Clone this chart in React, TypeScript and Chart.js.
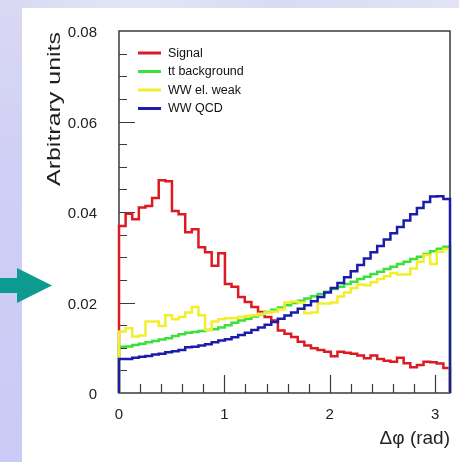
import { useEffect, useRef } from "react";
import { Chart, registerables } from "chart.js";

Chart.register(...registerables);

// ---- data ----
const seriesLabels = ["Signal", "tt background", "WW el. weak", "WW QCD"];
const seriesColors = ["#dc1a22", "#3ce03a", "#f2ee2c", "#1c1caa"];

const nBins = 50;
const xMin = 0;
const xMax = Math.PI;
const yMin = 0;
const yMax = 0.08;
const xMajorStep = 1;
const xMinorStep = 0.2;
const yMajorStep = 0.02;
const yMinorStep = 0.005;

const signal = [
  0.0369, 0.0396, 0.0384, 0.041, 0.0413, 0.0431, 0.047, 0.0468, 0.0402, 0.0395,
  0.0355, 0.0362, 0.0322, 0.0311, 0.0281, 0.0309, 0.0241, 0.0235, 0.0212, 0.0201,
  0.019, 0.0179, 0.0168, 0.016, 0.0138, 0.0131, 0.0124, 0.0113, 0.0105, 0.0099,
  0.0095, 0.0091, 0.0081, 0.0091, 0.0089, 0.0087, 0.0083, 0.0077, 0.0083, 0.0075,
  0.0071, 0.0069, 0.0078, 0.0066, 0.0057, 0.0062, 0.0069, 0.0068, 0.0065, 0.0055,
];

const ttBackground = [
  0.0102, 0.0103, 0.0106, 0.0109, 0.0112, 0.0115, 0.0118, 0.0121, 0.0126, 0.013,
  0.0133, 0.0135, 0.0137, 0.0139, 0.0141, 0.0145, 0.015, 0.0155, 0.016, 0.0164,
  0.0169, 0.0174, 0.0179, 0.0184, 0.0189, 0.0194, 0.0199, 0.0204, 0.0209, 0.0214,
  0.0219, 0.0224, 0.023, 0.0235, 0.0241, 0.0246, 0.0252, 0.0257, 0.0263, 0.0268,
  0.0274, 0.0279, 0.0285, 0.029, 0.0296, 0.0301, 0.0307, 0.0313, 0.0319, 0.0323,
];

const wwElWeak = [
  0.0136, 0.0143, 0.0125, 0.0127, 0.0158, 0.0158, 0.0148, 0.0172, 0.0163, 0.0168,
  0.0178, 0.019, 0.0172, 0.014, 0.0158, 0.0163, 0.0165, 0.0166, 0.0168, 0.017,
  0.0172, 0.0175, 0.0178, 0.018, 0.0185, 0.02, 0.0202, 0.02, 0.0176, 0.0178,
  0.0198, 0.0198, 0.02, 0.0213, 0.0222, 0.0232, 0.024, 0.0238, 0.0245, 0.0252,
  0.0258, 0.0265, 0.0262, 0.0262, 0.0275, 0.029, 0.0305, 0.0285, 0.0312, 0.0318,
];

const wwQcd = [
  0.0075, 0.0075, 0.0078, 0.008, 0.0082, 0.0085, 0.0087, 0.009, 0.0092, 0.0095,
  0.0101, 0.0102, 0.0105, 0.0108, 0.0112, 0.0116, 0.0119, 0.0123, 0.0128, 0.0133,
  0.0139, 0.0145, 0.0151, 0.0157, 0.0164, 0.0171, 0.0178, 0.0186, 0.0194, 0.0203,
  0.0212, 0.0222, 0.0232, 0.0243, 0.0256, 0.0269, 0.0283, 0.0297, 0.0311, 0.0325,
  0.0339, 0.0353, 0.0367, 0.0381, 0.0395, 0.0409, 0.0422, 0.0434, 0.0435, 0.0429,
];

const seriesValues = [signal, ttBackground, wwElWeak, wwQcd];

const yTitle = "Arbitrary units";
const xTitle = "\u0394\u03c6 (rad)";

// histogram outline points (bin edges from the axis range)
function histPoints(values: number[]) {
  const w = (xMax - xMin) / nBins;
  const pts: { x: number; y: number }[] = [{ x: xMin, y: 0 }];
  values.forEach((v, i) => pts.push({ x: xMin + i * w, y: v }));
  pts.push({ x: xMax, y: 0 });
  return pts;
}

const FONT = "'Liberation Sans', Arial, Helvetica, sans-serif";

const decorPlugin = {
  id: "decor",
  beforeDraw(chart: any) {
    const { ctx, width, height } = chart;
    ctx.save();
    ctx.fillStyle = "#ffffff";
    ctx.fillRect(0, 0, width, height);
    // top strip
    const g = ctx.createLinearGradient(0, 0, width, 0);
    g.addColorStop(0, "#d6d9f2");
    g.addColorStop(0.3, "#e4e6f6");
    g.addColorStop(0.6, "#d8dbf3");
    g.addColorStop(1, "#e2e4f5");
    ctx.fillStyle = g;
    ctx.fillRect(0, 0, width, 8);
    // left strip
    const g2 = ctx.createLinearGradient(0, 0, 0, height);
    g2.addColorStop(0, "#d9d9f3");
    g2.addColorStop(0.35, "#d0cff5");
    g2.addColorStop(1, "#cbcaf6");
    ctx.fillStyle = g2;
    ctx.fillRect(0, 0, 22, height);
    // arrow
    ctx.fillStyle = "#0d9a8f";
    ctx.fillRect(0, 278, 18, 15);
    ctx.beginPath();
    ctx.moveTo(17, 268);
    ctx.lineTo(52, 285.5);
    ctx.lineTo(17, 303);
    ctx.closePath();
    ctx.fill();
    // y title (stretched text)
    ctx.translate(55, 109);
    ctx.rotate(-Math.PI / 2);
    ctx.font = `18.5px ${FONT}`;
    ctx.fillStyle = "#1e1e1e";
    ctx.textAlign = "center";
    ctx.textBaseline = "middle";
    const m = ctx.measureText(yTitle).width;
    ctx.scale(154 / m, 1);
    ctx.fillText(yTitle, 0, 0);
    ctx.restore();
  },
  beforeDatasetsDraw(chart: any) {
    const { ctx, chartArea } = chart;
    const xs = chart.scales.x;
    const ys = chart.scales.y;
    ctx.save();
    ctx.strokeStyle = "#3a3a3a";
    ctx.lineWidth = 1.5;
    ctx.strokeRect(chartArea.left, chartArea.top, chartArea.right - chartArea.left, chartArea.bottom - chartArea.top);
    ctx.lineWidth = 1.2;
    ctx.beginPath();
    const nY = Math.round((yMax - yMin) / yMinorStep);
    for (let i = 1; i < nY; i++) {
      const v = yMin + i * yMinorStep;
      const major = Math.abs(v / yMajorStep - Math.round(v / yMajorStep)) < 1e-6;
      const py = Math.round(ys.getPixelForValue(v)) + 0.5;
      ctx.moveTo(chartArea.left, py);
      ctx.lineTo(chartArea.left + (major ? 16 : 8), py);
    }
    const nX = Math.floor((xMax - xMin) / xMinorStep + 1e-6);
    for (let i = 1; i <= nX; i++) {
      const v = xMin + i * xMinorStep;
      const major = Math.abs(v / xMajorStep - Math.round(v / xMajorStep)) < 1e-6;
      const px = Math.round(xs.getPixelForValue(v)) + 0.5;
      ctx.moveTo(px, chartArea.bottom);
      ctx.lineTo(px, chartArea.bottom - (major ? 18 : 9));
    }
    ctx.stroke();
    ctx.restore();
  },
  afterDatasetsDraw(chart: any) {
    const { ctx } = chart;
    ctx.save();
    ctx.font = `12.5px ${FONT}`;
    ctx.textBaseline = "middle";
    ctx.textAlign = "left";
    seriesLabels.forEach((label, i) => {
      const y = 53 + i * 18.5;
      ctx.strokeStyle = seriesColors[i];
      ctx.lineWidth = 3;
      ctx.beginPath();
      ctx.moveTo(138, y);
      ctx.lineTo(161, y);
      ctx.stroke();
      ctx.fillStyle = "#111111";
      ctx.fillText(label, 168, y + 0.5);
    });
    ctx.restore();
  },
};

export default function App() {
  const ref = useRef<HTMLCanvasElement | null>(null);
  useEffect(() => {
    if (!ref.current) return;
    const chart = new Chart(ref.current, {
      type: "line",
      data: {
        datasets: seriesValues.map((vals, i) => ({
          label: seriesLabels[i],
          data: histPoints(vals),
          borderColor: seriesColors[i],
          backgroundColor: seriesColors[i],
          borderWidth: 2.5,
          pointRadius: 0,
          stepped: "before" as const,
          fill: false,
          clip: false as any,
          order: seriesValues.length - i,
          borderJoinStyle: "miter" as const,
        })),
      },
      options: {
        animation: false,
        responsive: false,
        maintainAspectRatio: false,
        devicePixelRatio: 1,
        layout: { padding: { left: 0, right: 9, top: 30, bottom: 0 } },
        plugins: {
          legend: { display: false },
          tooltip: { enabled: false },
          title: { display: false },
        },
        scales: {
          x: {
            type: "linear",
            min: xMin,
            max: xMax,
            grid: { display: false, drawTicks: false },
            border: { display: false },
            ticks: {
              stepSize: xMajorStep,
              includeBounds: false,
              padding: 13,
              color: "#222222",
              font: { size: 15, family: FONT },
              maxRotation: 0,
            },
            title: {
              display: true,
              text: xTitle,
              align: "end",
              color: "#222222",
              font: { size: 19, family: FONT },
              padding: { top: 0, bottom: 12 },
            },
            afterFit: (scale: any) => {
              scale.height = 69;
            },
          },
          y: {
            type: "linear",
            min: yMin,
            max: yMax,
            grid: { display: false, drawTicks: false },
            border: { display: false },
            ticks: {
              stepSize: yMajorStep,
              padding: 22,
              labelOffset: 2,
              color: "#222222",
              font: { size: 15, family: FONT },
              callback: (v: any) => (Number(v) === 0 ? "0" : Number(v).toFixed(2)),
            },
            afterFit: (scale: any) => {
              scale.width = 119;
            },
          },
        },
      },
      plugins: [decorPlugin],
    });
    return () => chart.destroy();
  }, []);
  return (
    <div style={{ position: "fixed", left: 0, top: 0, width: 459, height: 462 }}>
      <canvas ref={ref} width={459} height={462} style={{ display: "block", width: 459, height: 462 }} />
    </div>
  );
}
